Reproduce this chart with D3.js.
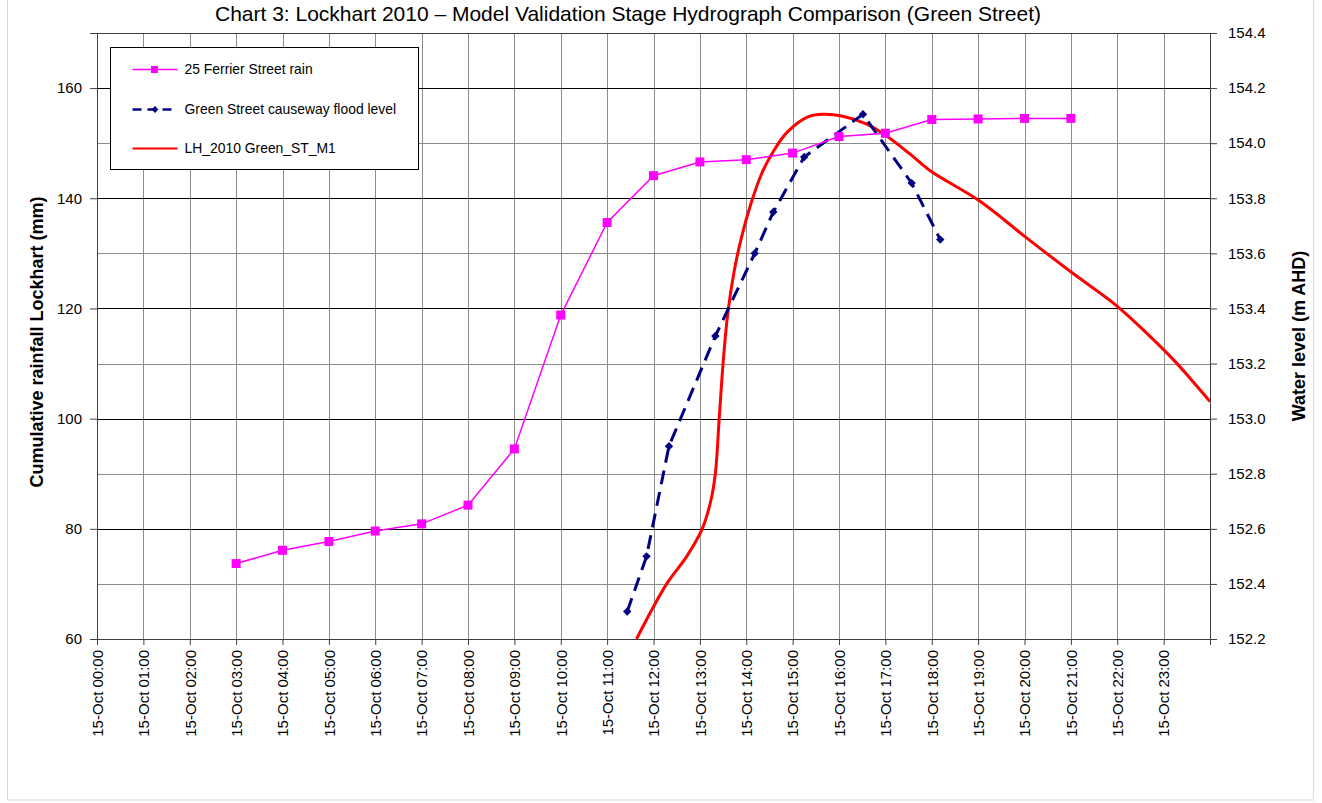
<!DOCTYPE html>
<html>
<head>
<meta charset="utf-8">
<script src="https://cdn.jsdelivr.net/npm/d3@7"></script>
<style>
  body { margin: 0; background: #fff; }
  svg { display: block; font-family: Arial, "Liberation Sans", sans-serif; }
</style>
</head>
<body>
<svg id="chart" width="1322" height="803"></svg>
<script>
// cumulative rain at 25 Ferrier Street (mm), hourly
const rainTimes = ["03:00","04:00","05:00","06:00","07:00","08:00","09:00","10:00","11:00","12:00",
  "13:00","14:00","15:00","16:00","17:00","18:00","19:00","20:00","21:00"];
const rainValues = [73.7, 76.1, 77.7, 79.6, 80.9, 84.3, 94.5, 118.8, 135.6, 144.1,
  146.6, 147.0, 148.2, 151.2, 151.8, 154.3, 154.4, 154.5, 154.5];

// observed flood level at Green Street causeway (m AHD)
const floodTimes = ["11:26","11:51","12:20","13:20","14:11","14:35","15:15","16:31","17:34","18:11"];
const floodValues = [152.30, 152.50, 152.90, 153.30, 153.60, 153.75, 153.95, 154.105, 153.855, 153.65];

// modelled level LH_2010 Green_ST_M1 (m AHD)
const modelTimes = ["11:38","12:17","12:43","13:03","13:14","13:20","13:25","13:30","13:36","13:44",
  "13:54","14:06","14:20","14:35","14:53","15:19","15:39","16:05","16:36","17:02",
  "17:32","17:58","19:02","20:01","20:59","21:57","22:36","23:15","23:47","24:00"];
const modelValues = [152.20, 152.40, 152.50, 152.60, 152.70, 152.80, 153.00, 153.20, 153.38, 153.53,
  153.66, 153.78, 153.89, 153.97, 154.04, 154.095, 154.105, 154.098, 154.069, 154.025,
  153.96, 153.90, 153.79, 153.66, 153.535, 153.415, 153.316, 153.207, 153.105, 153.062];

const leftTicks = [60, 80, 100, 120, 140, 160];
const rightTicks = [152.2, 152.4, 152.6, 152.8, 153.0, 153.2, 153.4, 153.6, 153.8, 154.0, 154.2, 154.4];

const titleText = "Chart 3: Lockhart 2010 \u2013 Model Validation Stage Hydrograph Comparison (Green Street)";
const leftTitle = "Cumulative rainfall Lockhart (mm)";
const rightTitle = "Water level (m AHD)";
const seriesNames = ["25 Ferrier Street rain", "Green Street causeway flood level", "LH_2010 Green_ST_M1"];

function toDate(hm) {
  const [h, m] = hm.split(":").map(Number);
  return new Date(2010, 9, 15, h, m);
}

const svg = d3.select("#chart");
const margin = { left: 97, right: 1210, top: 33, bottom: 639 };

const x = d3.scaleTime()
  .domain([new Date(2010, 9, 15, 0, 0), new Date(2010, 9, 16, 0, 0)])
  .range([margin.left, margin.right]);
const yL = d3.scaleLinear().domain([60, 170]).range([margin.bottom, margin.top]);
const yR = d3.scaleLinear().domain([152.2, 154.4]).range([margin.bottom, margin.top]);

// outer chart border (top edge sits above the page)
svg.append("rect")
  .attr("x", 7.5).attr("y", -20).attr("width", 1306).attr("height", 820)
  .attr("fill", "#fff").attr("stroke", "#d9d9d9");

svg.append("text")
  .attr("x", 628).attr("y", 21)
  .attr("text-anchor", "middle")
  .attr("font-size", 21)
  .text(titleText);

// grid
const hours = d3.timeHour.range(x.domain()[0], x.domain()[1]);
svg.append("g").selectAll("line").data(hours.slice(1)).join("line")
  .attr("x1", d => Math.round(x(d)) + 0.5).attr("x2", d => Math.round(x(d)) + 0.5)
  .attr("y1", margin.top).attr("y2", margin.bottom)
  .attr("stroke", "#8c8c8c").attr("stroke-width", 1);

const minorVals = d3.range(70, 170, 20);
svg.append("g").selectAll("line").data(minorVals).join("line")
  .attr("x1", margin.left).attr("x2", margin.right)
  .attr("y1", d => Math.round(yL(d)) + 0.5).attr("y2", d => Math.round(yL(d)) + 0.5)
  .attr("stroke", "#8c8c8c");
svg.append("g").selectAll("line").data(leftTicks.slice(1)).join("line")
  .attr("x1", margin.left).attr("x2", margin.right)
  .attr("y1", d => Math.round(yL(d)) + 0.5).attr("y2", d => Math.round(yL(d)) + 0.5)
  .attr("stroke", "#000");

svg.append("rect")
  .attr("x", margin.left + 0.5).attr("y", margin.top + 0.5)
  .attr("width", margin.right - margin.left).attr("height", margin.bottom - margin.top)
  .attr("fill", "none").attr("stroke", "#404040");

// axes
const axisFont = 15;
const gL = svg.append("g").attr("transform", `translate(${margin.left},0)`)
  .call(d3.axisLeft(yL).tickValues(leftTicks).tickSize(7).tickPadding(8).tickFormat(d3.format("d")));
const gR = svg.append("g").attr("transform", `translate(${margin.right},0)`)
  .call(d3.axisRight(yR).tickValues(rightTicks).tickSize(7).tickPadding(11).tickFormat(d3.format(".1f")));
const gX = svg.append("g").attr("transform", `translate(0,${margin.bottom})`)
  .call(d3.axisBottom(x).tickValues(hours).tickSize(6)
    .tickFormat(d => "15-Oct " + d3.timeFormat("%H:%M")(d)));
[gL, gR, gX].forEach(g => {
  g.select(".domain").attr("stroke", "#404040");
  g.selectAll(".tick line").attr("stroke", "#404040");
  g.selectAll("text").attr("font-size", axisFont).attr("fill", "#000")
    .attr("font-family", "Arial, 'Liberation Sans', sans-serif");
});
gX.selectAll("text")
  .attr("transform", "rotate(-90)")
  .attr("text-anchor", "end")
  .attr("x", -11).attr("y", 0).attr("dy", "0.35em");

svg.append("text")
  .attr("transform", `translate(43,${(margin.top + margin.bottom) / 2 + 6}) rotate(-90)`)
  .attr("text-anchor", "middle").attr("font-size", 18).attr("font-weight", "bold")
  .text(leftTitle);
svg.append("text")
  .attr("transform", `translate(1305,${(margin.top + margin.bottom) / 2}) rotate(-90)`)
  .attr("text-anchor", "middle").attr("font-size", 18).attr("font-weight", "bold")
  .text(rightTitle);

// clip
svg.append("clipPath").attr("id", "plotClip").append("rect")
  .attr("x", margin.left).attr("y", margin.top)
  .attr("width", margin.right - margin.left).attr("height", margin.bottom - margin.top);

const rain = rainTimes.map((t, i) => ({ t: toDate(t), v: rainValues[i] }));
const flood = floodTimes.map((t, i) => ({ t: toDate(t), v: floodValues[i] }));
const model = modelTimes.map((t, i) => ({ t: toDate(t), v: modelValues[i] }));

const plot = svg.append("g").attr("clip-path", "url(#plotClip)");

plot.append("path").datum(model)
  .attr("fill", "none").attr("stroke", "#ff0000").attr("stroke-width", 3)
  .attr("d", d3.line().x(d => x(d.t)).y(d => yR(d.v)).curve(d3.curveCatmullRom.alpha(0.5)));

plot.append("path").datum(flood)
  .attr("fill", "none").attr("stroke", "#000080").attr("stroke-width", 3)
  .attr("stroke-dasharray", "14,8")
  .attr("d", d3.line().x(d => x(d.t)).y(d => yR(d.v)));
plot.append("g").selectAll("path").data(flood).join("path")
  .attr("transform", d => `translate(${x(d.t)},${yR(d.v)})`)
  .attr("d", d3.symbol(d3.symbolDiamond2, 45)())
  .attr("fill", "#000080");

plot.append("path").datum(rain)
  .attr("fill", "none").attr("stroke", "#ff00ff").attr("stroke-width", 1.5)
  .attr("d", d3.line().x(d => x(d.t)).y(d => yL(d.v)));
plot.append("g").selectAll("rect").data(rain).join("rect")
  .attr("x", d => x(d.t) - 4.5).attr("y", d => yL(d.v) - 4.5)
  .attr("width", 9).attr("height", 9)
  .attr("fill", "#ff00ff");

// legend
const lg = svg.append("g").attr("transform", "translate(110.5,47.5)");
lg.append("rect").attr("width", 308).attr("height", 122)
  .attr("fill", "#fff").attr("stroke", "#000");
const rowY = [22, 62, 101];
const styles = [
  { color: "#ff00ff", width: 1.5, dash: null, marker: "square" },
  { color: "#000080", width: 2.5, dash: "9,6", marker: "diamond" },
  { color: "#ff0000", width: 2, dash: null, marker: null }
];
seriesNames.forEach((name, i) => {
  const s = styles[i];
  const row = lg.append("g").attr("transform", `translate(0,${rowY[i]})`);
  row.append("line").attr("x1", 22).attr("x2", 67)
    .attr("stroke", s.color).attr("stroke-width", s.width)
    .attr("stroke-dasharray", s.dash);
  if (s.marker === "square") {
    row.append("rect").attr("x", 40.5).attr("y", -3.5).attr("width", 7).attr("height", 7).attr("fill", s.color);
  } else if (s.marker === "diamond") {
    row.append("path").attr("transform", "translate(44.5,0)")
      .attr("d", d3.symbol(d3.symbolDiamond2, 30)()).attr("fill", s.color);
  }
  row.append("text").attr("x", 74).attr("dy", "0.35em")
    .attr("font-size", 13.9).text(name);
});
</script>
</body>
</html>
